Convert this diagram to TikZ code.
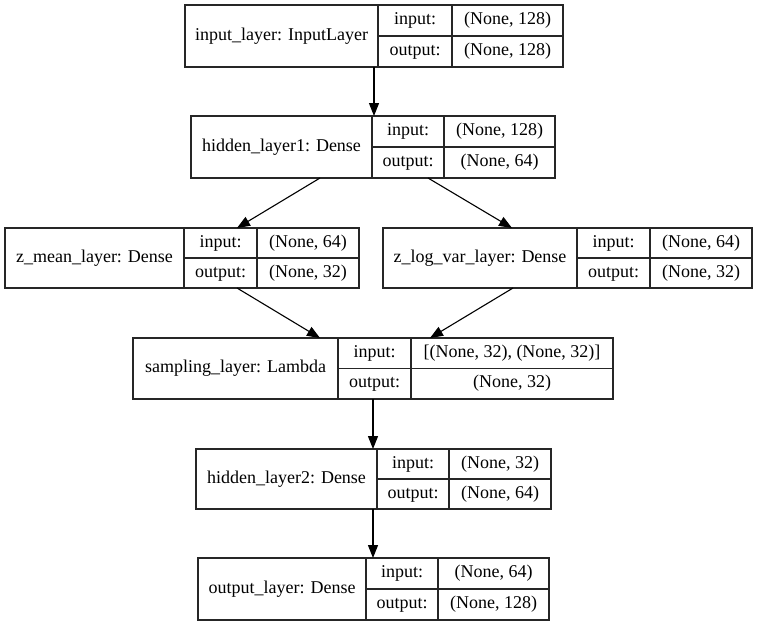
\documentclass[tikz,border=0pt]{standalone}
\usepackage{fontspec}
\setmainfont{Liberation Serif}
\newfontfamily\timesfont{Liberation Serif}
\usetikzlibrary{arrows.meta,calc}
\tikzset{
  x=1pt, y=-1pt,
  recframe/.style={draw=black!85, line width=1.3pt, inner sep=0pt, outer sep=0pt, anchor=north west},
  recline/.style={draw=black!85, line width=1.3pt},
  txt/.style={font=\timesfont\fontsize{18}{20}\selectfont, inner sep=0pt, text=black},
  arr/.style={-{Triangle[length=13pt,width=10pt]}, line width=1.1pt, draw=black},
}
% name, x1, y1, x2, y2, d1, d2
\newcommand{\recbox}[7]{%
  \node[recframe, minimum width={(#4-#2)*1pt}, minimum height={(#5-#3)*1pt}] (#1) at (#2,#3) {};
  \draw[recline] (#6,#3) -- (#6,#5) (#7,#3) -- (#7,#5) (#6,{(#3+#5)/2}) -- (#4,{(#3+#5)/2});
  \coordinate (#1-l) at ({(#2+#6)/2},{(#3+#5)/2});
  \coordinate (#1-i) at ({(#6+#7)/2},{(3*#3+#5)/4});
  \coordinate (#1-iv) at ({(#7+#4)/2},{(3*#3+#5)/4});
  \coordinate (#1-o) at ({(#6+#7)/2},{(#3+3*#5)/4});
  \coordinate (#1-ov) at ({(#7+#4)/2},{(#3+3*#5)/4});
}
% name, label, input value, output value
\newcommand{\rectext}[4]{%
  \node[txt] (#1-lab) at (#1-l) {\strut #2};
  \node[txt] (#1-in) at (#1-i) {\strut input:};
  \node[txt] (#1-inv) at (#1-iv) {\strut #3};
  \node[txt] (#1-out) at (#1-o) {\strut output:};
  \node[txt] (#1-outv) at (#1-ov) {\strut #4};
}
\begin{document}
\begin{tikzpicture}
\useasboundingbox[fill=white] (0,0) rectangle (757,627);

\recbox{inp}{185}{5}{563}{67}{378}{452}
\rectext{inp}{input\_layer: InputLayer}{(None, 128)}{(None, 128)}

\recbox{hid1}{191}{116}{555}{178}{372}{444}
\rectext{hid1}{hidden\_layer1: Dense}{(None, 128)}{(None, 64)}

\recbox{zm}{5}{228}{359}{288}{184}{257}
\rectext{zm}{z\_mean\_layer: Dense}{(None, 64)}{(None, 32)}

\recbox{zl}{383}{228}{752}{288}{577}{650}
\rectext{zl}{z\_log\_var\_layer: Dense}{(None, 64)}{(None, 32)}

\recbox{samp}{133}{338}{613}{399}{338}{411}
\rectext{samp}{sampling\_layer: Lambda}{[(None, 32), (None, 32)]}{(None, 32)}

\recbox{hid2}{196}{449}{551}{509}{377}{449}
\rectext{hid2}{hidden\_layer2: Dense}{(None, 32)}{(None, 64)}

\recbox{outl}{198}{558}{549}{620}{366}{438}
\rectext{outl}{output\_layer: Dense}{(None, 64)}{(None, 128)}

\draw[arr] ([xshift=189pt]inp.south west) -- ([xshift=183pt]hid1.north west);
\draw[arr] ([xshift=129pt]hid1.south west) -- ([xshift=232pt]zm.north west);
\draw[arr] ([xshift=237pt]hid1.south west) -- ([xshift=129pt]zl.north west);
\draw[arr] ([xshift=232pt]zm.south west) -- ([xshift=187pt]samp.north west);
\draw[arr] ([xshift=130pt]zl.south west) -- ([xshift=297pt]samp.north west);
\draw[arr] ([xshift=240pt]samp.south west) -- ([xshift=177pt]hid2.north west);
\draw[arr] ([xshift=177pt]hid2.south west) -- ([xshift=175pt]outl.north west);
\end{tikzpicture}
\end{document}
